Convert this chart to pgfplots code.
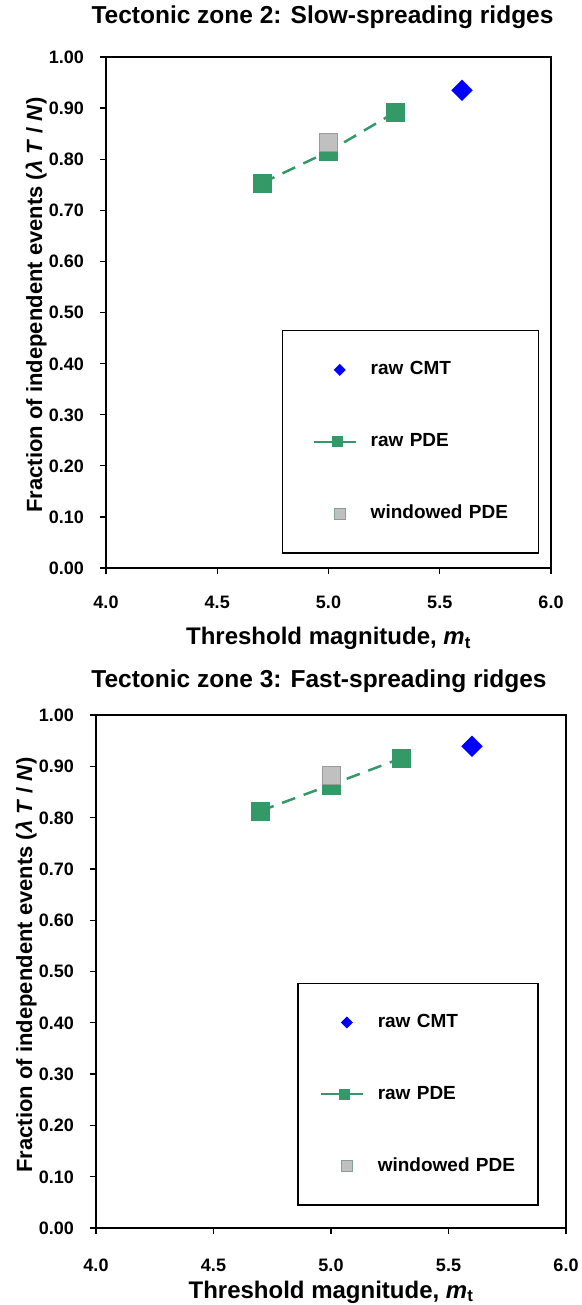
\documentclass[border=0pt]{standalone}
\usepackage{pgfplots}
\pgfplotsset{compat=1.18}
\usepackage{fontspec}
\setmainfont{Liberation Sans}
\definecolor{pdegreen}{HTML}{339966}
\definecolor{cmtblue}{HTML}{0000FF}
\definecolor{wingray}{HTML}{C0C0C0}
\definecolor{wingrayedge}{HTML}{9A9A9A}
\definecolor{winlegedge}{HTML}{7FA592}
\newcommand\titlefont{\fontsize{24.5bp}{28bp}\selectfont\bfseries}
\newcommand\labelfont{\fontsize{24bp}{28bp}\selectfont\bfseries}
\newcommand\ylabelfont{\fontsize{22bp}{26bp}\selectfont\bfseries}
\newcommand\tickfont{\fontsize{18bp}{21bp}\selectfont\bfseries}
\newcommand\legfont{\fontsize{19bp}{22bp}\selectfont\bfseries}
\pgfplotsset{
  myaxis/.style={
    scale only axis,
    anchor=south west,
    xmin=4, xmax=6, ymin=0, ymax=1,
    xtick={4,4.5,5,5.5,6},
    ytick={0,0.1,0.2,0.3,0.4,0.5,0.6,0.7,0.8,0.9,1},
    tick align=outside,
    xtick pos=bottom, ytick pos=left,
    major tick length=6bp,
    axis line style={line width=1.8bp},
    every tick/.style={black, line width=1.3bp},
    xticklabel={\pgfmathprintnumber[assume math mode=true,fixed,fixed zerofill,precision=1]{\tick}},
    yticklabel={\pgfmathprintnumber[assume math mode=true,fixed,fixed zerofill,precision=2]{\tick}},
    xticklabel style={font=\tickfont, inner sep=0pt, anchor=base, yshift=-35bp},
    yticklabel style={font=\tickfont, inner sep=0pt, text height=12.9bp, text depth=0pt, anchor=east, xshift=-16bp},
    title style={font=\titlefont, anchor=base, inner sep=0pt},
    xlabel style={font=\labelfont, anchor=base, inner sep=0pt},
    ylabel style={font=\ylabelfont, anchor=base, inner sep=0pt},
    legend cell align=left,
    legend style={draw=black, line width=1.5bp, row sep=54.5bp, column sep=0pt,
      nodes={inner sep=0pt, text height=13.5bp, text depth=4bp, text width=138bp, align=left, font=\legfont}},
  },
  cmtleg/.style={legend image code/.code={\path[draw=none] (0bp,0bp) -- (57bp,0bp);
    \path[draw=none, fill=cmtblue] (26bp,6bp) -- (32bp,0bp) -- (26bp,-6bp) -- (20bp,0bp) -- cycle;}},
  pdeleg/.style={legend image code/.code={\path[draw=none] (0bp,0bp) -- (57bp,0bp);
    \draw[solid, line width=2bp, draw=pdegreen] (0bp,0bp) -- (42bp,0bp);
    \path[draw=none, fill=pdegreen] (18.5bp,-5.5bp) rectangle (29.5bp,5.5bp);}},
  winleg/.style={legend image code/.code={\path[draw=none] (0bp,0bp) -- (57bp,0bp);
    \draw[solid, line width=1bp, draw=winlegedge, fill=wingray] (20.5bp,-5.5bp) rectangle (31.5bp,5.5bp);}},
}
\begin{document}
\begin{tikzpicture}
\useasboundingbox (0bp,0bp) rectangle (582bp,1305bp);
% ---------------- top panel ----------------
\begin{axis}[myaxis,
  at={(106bp,737bp)}, width=445bp, height=511bp,
  title={Tectonic zone 2: Slow-spreading ridges},
  title style={at={(axis description cs:0.5,1)}, yshift=28bp, xshift=-6bp},
  xlabel={Threshold magnitude, \textit{m}\textsubscript{t}},
  xlabel style={at={(axis description cs:0.5,0)}, yshift=-77bp},
  ylabel={Fraction of independent events (\textit{λ T} / \textit{N})},
  ylabel style={at={(axis description cs:-0.1438,0.5147)}},
  legend style={at={(axis description cs:0.3955,0.466)}, anchor=north west, inner xsep=30bp, inner ysep=30.5bp},
]
\addplot[cmtleg, only marks, mark=square*, mark size=7.3bp,
  mark options={rotate=45, fill=cmtblue, draw=cmtblue, line width=0.4bp}]
  coordinates {(5.6,0.935)};
\addlegendentry{raw CMT}
\addplot[pdeleg, color=pdegreen, line width=2.5bp, dash pattern=on 14bp off 9bp,
  mark=square*, mark size=9bp, mark options={solid, fill=pdegreen, draw=pdegreen, line width=0.5bp}]
  coordinates {(4.7,0.753) (5.0,0.815) (5.3,0.892)};
\addlegendentry{raw PDE}
\addplot[winleg, only marks, mark=square*, mark size=9bp,
  mark options={fill=wingray, draw=wingrayedge, line width=0.8bp}]
  coordinates {(5.0,0.833)};
\addlegendentry{windowed PDE}
\end{axis}
% ---------------- bottom panel ----------------
\begin{axis}[myaxis,
  at={(96bp,77bp)}, width=470bp, height=513bp,
  title={Tectonic zone 3: Fast-spreading ridges},
  title style={at={(axis description cs:0.5,1)}, yshift=22bp, xshift=-12bp},
  xlabel={Threshold magnitude, \textit{m}\textsubscript{t}},
  xlabel style={at={(axis description cs:0.5,0)}, yshift=-70bp},
  ylabel={Fraction of independent events (\textit{λ T} / \textit{N})},
  ylabel style={at={(axis description cs:-0.136,0.5127)}},
  xticklabel style={yshift=-2bp},
  legend style={at={(axis description cs:0.4277,0.4776)}, anchor=north west, inner xsep=22bp, inner ysep=30bp},
]
\addplot[cmtleg, only marks, mark=square*, mark size=7.3bp,
  mark options={rotate=45, fill=cmtblue, draw=cmtblue, line width=0.4bp}]
  coordinates {(5.6,0.939)};
\addlegendentry{raw CMT}
\addplot[pdeleg, color=pdegreen, line width=2.5bp, dash pattern=on 14bp off 9bp,
  mark=square*, mark size=9bp, mark options={solid, fill=pdegreen, draw=pdegreen, line width=0.5bp}]
  coordinates {(4.7,0.813) (5.0,0.864) (5.3,0.916)};
\addlegendentry{raw PDE}
\addplot[winleg, only marks, mark=square*, mark size=9bp,
  mark options={fill=wingray, draw=wingrayedge, line width=0.8bp}]
  coordinates {(5.0,0.882)};
\addlegendentry{windowed PDE}
\end{axis}
\end{tikzpicture}
\end{document}
